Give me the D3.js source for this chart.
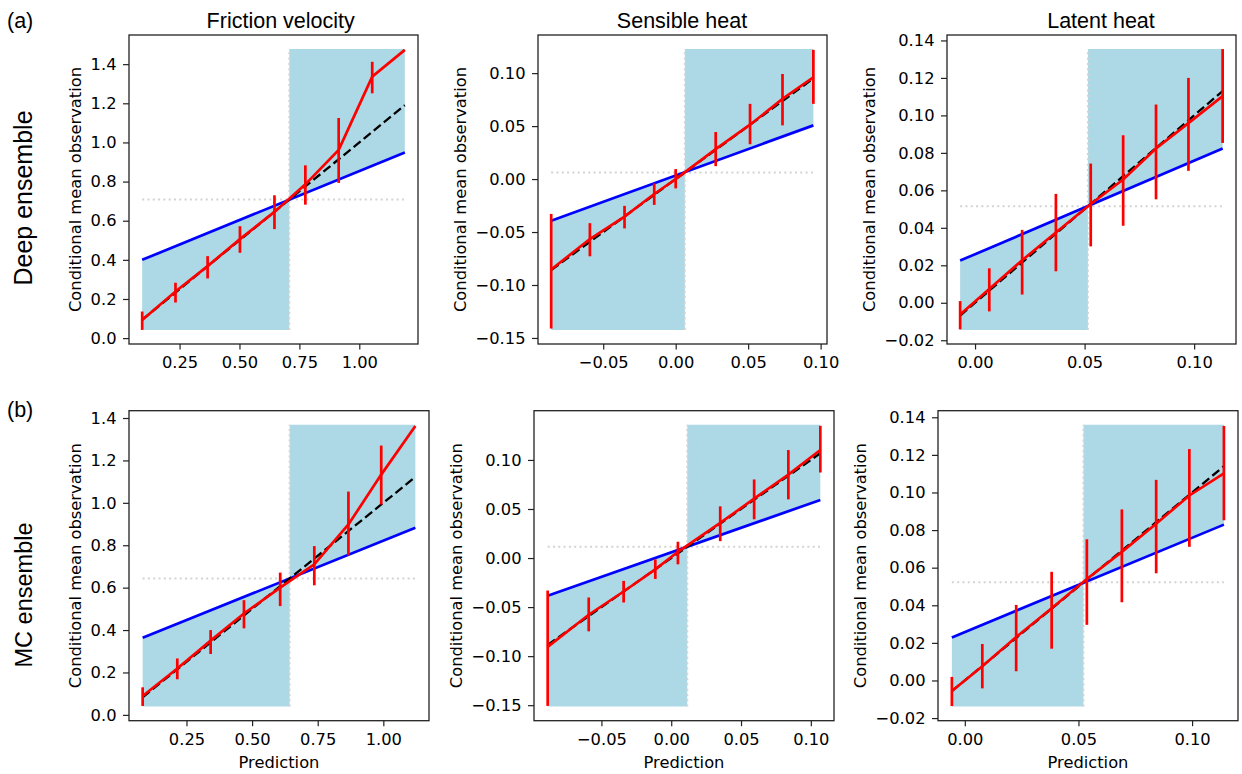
<!DOCTYPE html>
<html>
<head>
<meta charset="utf-8">
<script src="https://cdn.jsdelivr.net/npm/d3@7"></script>
<style>
  body { margin:0; background:#fff; }
  svg text { fill:#000; }
</style>
</head>
<body>
<div id="chart"></div>
<script>
// ---- data ----
var columns = ["Friction velocity", "Sensible heat", "Latent heat"];
var rowNames = ["Deep ensemble", "MC ensemble"];
var rowTags = ["(a)", "(b)"];

// (a) deep ensemble, friction velocity
var deepFvPred = [0.094, 0.233, 0.367, 0.502, 0.646, 0.775, 0.914, 1.054, 1.190];
var deepFvObs  = [0.093, 0.238, 0.368, 0.506, 0.645, 0.786, 0.962, 1.336, 1.473];
var deepFvLo   = [0.042, 0.182, 0.305, 0.436, 0.557, 0.682, 0.793, 1.251, 1.473];
var deepFvHi   = [0.136, 0.283, 0.419, 0.572, 0.730, 0.883, 1.125, 1.412, 1.473];
// (a) deep ensemble, sensible heat
var deepShPred = [-0.0859, -0.0592, -0.0353, -0.0148, 0.0000, 0.0276, 0.0513, 0.0737, 0.0950];
var deepShObs  = [-0.0854, -0.0566, -0.0354, -0.0141, 0.0000, 0.0282, 0.0513, 0.0757, 0.0961];
var deepShLo   = [-0.1411, -0.0729, -0.0466, -0.0244, -0.0088, 0.0122, 0.0329, 0.0507, 0.0710];
var deepShHi   = [-0.0329, -0.0416, -0.0253, -0.0041, 0.0094, 0.0444, 0.0710, 0.0992, 0.1220];
// (a) deep ensemble, latent heat
var deepLhPred = [-0.0068, 0.0065, 0.0215, 0.0369, 0.0528, 0.0676, 0.0826, 0.0974, 0.1130];
var deepLhObs  = [-0.0062, 0.0074, 0.0227, 0.0375, 0.0527, 0.0658, 0.0823, 0.0959, 0.1103];
var deepLhLo   = [-0.0142, -0.0046, 0.0044, 0.0168, 0.0301, 0.0411, 0.0552, 0.0704, 0.0853];
var deepLhHi   = [0.0009, 0.0184, 0.0389, 0.0581, 0.0743, 0.0894, 0.1058, 0.1200, 0.1354];

// (b) MC ensemble, friction velocity
var mcFvPred = [0.083, 0.215, 0.342, 0.469, 0.607, 0.737, 0.867, 0.992, 1.122];
var mcFvObs  = [0.089, 0.219, 0.350, 0.478, 0.600, 0.710, 0.898, 1.133, 1.362];
var mcFvLo   = [0.042, 0.168, 0.287, 0.408, 0.513, 0.611, 0.752, 0.992, 1.362];
var mcFvHi   = [0.130, 0.266, 0.400, 0.541, 0.671, 0.796, 1.053, 1.270, 1.362];
// (b) MC ensemble, sensible heat
var mcShPred = [-0.0885, -0.0591, -0.0341, -0.0114, 0.0048, 0.0351, 0.0594, 0.0839, 0.1068];
var mcShObs  = [-0.0905, -0.0578, -0.0341, -0.0115, 0.0064, 0.0358, 0.0605, 0.0851, 0.1101];
var mcShLo   = [-0.1507, -0.0747, -0.0453, -0.0213, -0.0064, 0.0172, 0.0395, 0.0598, 0.0872];
var mcShHi   = [-0.0331, -0.0402, -0.0233, -0.0014, 0.0166, 0.0527, 0.0801, 0.1101, 0.1348];
// (b) MC ensemble, latent heat
var mcLhPred = [-0.0057, 0.0077, 0.0226, 0.0382, 0.0537, 0.0691, 0.0842, 0.0988, 0.1140];
var mcLhObs  = [-0.0056, 0.0076, 0.0231, 0.0384, 0.0540, 0.0684, 0.0834, 0.0984, 0.1102];
var mcLhLo   = [-0.0136, -0.0042, 0.0049, 0.0169, 0.0296, 0.0416, 0.0570, 0.0711, 0.0852];
var mcLhHi   = [0.0019, 0.0194, 0.0402, 0.0578, 0.0751, 0.0910, 0.1067, 0.1231, 0.1354];

// climatology (dotted lines), no-skill line end values, skill-region extents
var climDeep = [0.708, 0.0063, 0.0515];
var climMC   = [0.643, 0.0115, 0.0522];
var noSkillDeep = [[0.400, 0.949], [-0.0394, 0.0507], [0.0225, 0.0823]];
var noSkillMC   = [[0.364, 0.882], [-0.0385, 0.0592], [0.0229, 0.0829]];
var shadeDeep = [[0.042, 1.477], [-0.1424, 0.1227], [-0.0145, 0.1354]];
var shadeMC   = [[0.039, 1.368], [-0.1514, 0.1358], [-0.0139, 0.1360]];

// axis limits
var xlimDeep = [[0.039, 1.245], [-0.0950, 0.1044], [-0.0128, 0.1191]];
var ylimDeep = [[-0.030, 1.549], [-0.1557, 0.1360], [-0.0220, 0.1429]];
var xlimMC   = [[0.031, 1.174], [-0.0983, 0.1166], [-0.0118, 0.1202]];
var ylimMC   = [[-0.0275, 1.4345], [-0.1658, 0.1502], [-0.0214, 0.1435]];

// ticks
var fvXTicks = [0.25, 0.5, 0.75, 1.0];
var fvXLabels = ["0.25", "0.50", "0.75", "1.00"];
var fvYTicks = [0, 0.2, 0.4, 0.6, 0.8, 1.0, 1.2, 1.4];
var fvYLabels = ["0.0", "0.2", "0.4", "0.6", "0.8", "1.0", "1.2", "1.4"];
var shXTicks = [-0.05, 0, 0.05, 0.10];
var shXLabels = ["\u22120.05", "0.00", "0.05", "0.10"];
var shYTicks = [-0.15, -0.10, -0.05, 0, 0.05, 0.10];
var shYLabels = ["\u22120.15", "\u22120.10", "\u22120.05", "0.00", "0.05", "0.10"];
var lhXTicks = [0, 0.05, 0.10];
var lhXLabels = ["0.00", "0.05", "0.10"];
var lhYTicks = [-0.02, 0, 0.02, 0.04, 0.06, 0.08, 0.10, 0.12, 0.14];
var lhYLabels = ["\u22120.02", "0.00", "0.02", "0.04", "0.06", "0.08", "0.10", "0.12", "0.14"];

// ---- layout ----
var W = 1242, H = 774;
var panelLeft = [[129, 538, 947], [129, 534, 938]];
var panelWidth = [289, 300];
var panelTop = [35, 410.7];
var panelHeight = [309, 310];
var titleX = [280.7, 682, 1101];
var tickFont = "'DejaVu Sans', sans-serif";
var figFont = "'Liberation Sans', Arial, sans-serif";

function pack(pred, obs, lo, hi){
	return pred.map(function(p, i){ return {x: p, y: obs[i], lo: lo[i], hi: hi[i]}; });
}

var panels = [
	[pack(deepFvPred, deepFvObs, deepFvLo, deepFvHi), pack(deepShPred, deepShObs, deepShLo, deepShHi), pack(deepLhPred, deepLhObs, deepLhLo, deepLhHi)],
	[pack(mcFvPred, mcFvObs, mcFvLo, mcFvHi), pack(mcShPred, mcShObs, mcShLo, mcShHi), pack(mcLhPred, mcLhObs, mcLhLo, mcLhHi)]
];
var clims = [climDeep, climMC];
var noSkills = [noSkillDeep, noSkillMC];
var shades = [shadeDeep, shadeMC];
var xlims = [xlimDeep, xlimMC];
var ylims = [ylimDeep, ylimMC];
var xTicks = [[fvXTicks, fvXLabels], [shXTicks, shXLabels], [lhXTicks, lhXLabels]];
var yTicks = [[fvYTicks, fvYLabels], [shYTicks, shYLabels], [lhYTicks, lhYLabels]];

var svg = d3.select("#chart").append("svg").attr("width", W).attr("height", H);

// column titles and row labels
columns.forEach(function(c, j){
	svg.append("text").attr("x", titleX[j]).attr("y", 27.5)
		.attr("text-anchor", "middle").style("font-family", figFont).style("font-size", "21.5px")
		.text(c);
});
svg.append("text").attr("x", 7).attr("y", 28).style("font-family", figFont).style("font-size", "21.5px").text(rowTags[0]);
svg.append("text").attr("x", 7).attr("y", 417).style("font-family", figFont).style("font-size", "21.5px").text(rowTags[1]);
svg.append("text").attr("transform", "translate(32,198) rotate(-90)")
	.attr("text-anchor", "middle").style("font-family", figFont).style("font-size", "25px").text(rowNames[0]);
svg.append("text").attr("transform", "translate(32,595) rotate(-90)")
	.attr("text-anchor", "middle").style("font-family", figFont).style("font-size", "23.5px").text(rowNames[1]);

for (var r = 0; r < 2; r++) {
	for (var c = 0; c < 3; c++) {
		drawPanel(r, c);
	}
}

function drawPanel(r, c){
	var w = panelWidth[r], h = panelHeight[r];
	var g = svg.append("g").attr("transform", "translate(" + panelLeft[r][c] + "," + panelTop[r] + ")");
	var data = panels[r][c];
	var clim = clims[r][c];
	var ns = noSkills[r][c];
	var sh = shades[r][c];
	var x0 = data[0].x, x1 = data[data.length - 1].x;

	var x = d3.scaleLinear().domain(xlims[r][c]).range([0, w]);
	var y = d3.scaleLinear().domain(ylims[r][c]).range([h, 0]);

	// skill region
	var region = [
		{x: x0, lo: sh[0], hi: ns[0]},
		{x: clim, lo: sh[0], hi: clim},
		{x: clim, lo: clim, hi: sh[1]},
		{x: x1, lo: ns[1], hi: sh[1]}
	];
	var area = d3.area()
		.x(function(d){ return x(d.x); })
		.y0(function(d){ return y(d.lo); })
		.y1(function(d){ return y(d.hi); });
	g.append("path").attr("d", area(region)).attr("fill", "#add8e6");

	// climatology dotted lines
	g.append("line")
		.attr("x1", x(x0)).attr("x2", x(x1)).attr("y1", y(clim)).attr("y2", y(clim))
		.attr("stroke", "#d3d3d3").attr("stroke-width", 2).attr("stroke-dasharray", "2,3.3");
	g.append("line")
		.attr("x1", x(clim)).attr("x2", x(clim)).attr("y1", y(sh[0])).attr("y2", y(sh[1]))
		.attr("stroke", "#d3d3d3").attr("stroke-width", 2).attr("stroke-dasharray", "2,3.3");

	var line = d3.line().x(function(d){ return x(d[0]); }).y(function(d){ return y(d[1]); });

	// no-skill line
	g.append("path").attr("d", line([[x0, ns[0]], [x1, ns[1]]]))
		.attr("fill", "none").attr("stroke", "#0000ff").attr("stroke-width", 2.7);

	// perfect reliability
	g.append("path").attr("d", line([[x0, x0], [x1, x1]]))
		.attr("fill", "none").attr("stroke", "#000").attr("stroke-width", 2.3)
		.attr("stroke-dasharray", "9,4");

	// reliability curve
	g.append("path").attr("d", line(data.map(function(d){ return [d.x, d.y]; })))
		.attr("fill", "none").attr("stroke", "#ff0000").attr("stroke-width", 2.7);

	g.selectAll(".err").data(data).enter().append("line")
		.attr("class", "err")
		.attr("x1", function(d){ return x(d.x); })
		.attr("x2", function(d){ return x(d.x); })
		.attr("y1", function(d){ return y(d.lo); })
		.attr("y2", function(d){ return y(d.hi); })
		.attr("stroke", "#ff0000").attr("stroke-width", 2.7);

	// axes
	var xa = d3.axisBottom(x).tickValues(xTicks[c][0])
		.tickFormat(function(d, i){ return xTicks[c][1][i]; })
		.tickSize(5.5).tickPadding(7).tickSizeOuter(0);
	var ya = d3.axisLeft(y).tickValues(yTicks[c][0])
		.tickFormat(function(d, i){ return yTicks[c][1][i]; })
		.tickSize(6).tickPadding(6.5).tickSizeOuter(0);

	var gx = g.append("g").attr("transform", "translate(0," + h + ")").call(xa);
	var gy = g.append("g").call(ya);
	[gx, gy].forEach(function(a){
		a.select(".domain").remove();
		a.selectAll("line").attr("stroke", "#222").attr("stroke-width", 1.2);
		a.selectAll("text").style("font-family", tickFont).style("font-size", "16.3px").attr("fill", "#000");
	});

	g.append("rect").attr("width", w).attr("height", h)
		.attr("fill", "none").attr("stroke", "#222").attr("stroke-width", 1.3);

	// y label, placed just left of the tick labels
	var bb = gy.node().getBBox();
	g.append("text")
		.attr("transform", "translate(" + (bb.x - 10) + "," + (h / 2) + ") rotate(-90)")
		.attr("text-anchor", "middle")
		.style("font-family", tickFont).style("font-size", "16.3px")
		.text("Conditional mean observation");

	if (r === 1) {
		g.append("text").attr("x", w / 2).attr("y", h + 47.5)
			.attr("text-anchor", "middle")
			.style("font-family", tickFont).style("font-size", "16.3px")
			.text("Prediction");
	}
}
</script>
</body>
</html>
